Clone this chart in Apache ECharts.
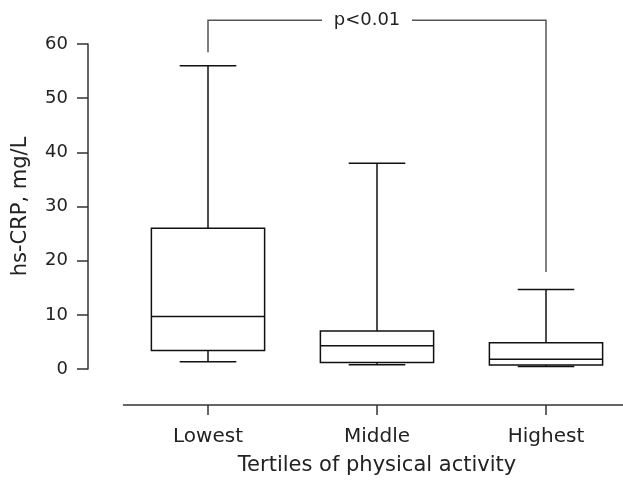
<!DOCTYPE html>
<html>
<head>
<meta charset="utf-8">
<script src="https://cdn.jsdelivr.net/npm/echarts@6/dist/echarts.min.js"></script>
<style>html,body{margin:0;padding:0;background:#fff}#c{width:623px;height:486px}</style>
</head>
<body>
<div id="c"></div>
<script>
var categories = ['Lowest', 'Middle', 'Highest'];
var whiskerLow = [1.35, 0.8, 0.45];
var q1 = [3.4, 1.2, 0.75];
var median = [9.7, 4.3, 1.8];
var q3 = [26.0, 7.0, 4.85];
var whiskerHigh = [56, 38, 14.7];
var yTicks = [0, 10, 20, 30, 40, 50, 60];
var bracketFrom = 0, bracketTo = 2;
var bracketTop = 64.4, bracketLeftEnd = 58.5, bracketRightEnd = 17.9;
var pLabel = 'p<0.01';

var boxData = categories.map(function (c, i) {
  return [i, whiskerLow[i], q1[i], median[i], q3[i], whiskerHigh[i]];
});

var FONT = 'DejaVu Sans';
var LINE = '#111';

var chart = echarts.init(document.getElementById('c'));
chart.setOption({
  animation: false,
  grid: { left: 123.5, width: 507, top: 44, bottom: 117, containLabel: false, outerBoundsMode: 'none' },
  xAxis: {
    type: 'category',
    data: categories,
    offset: 36,
    name: 'Tertiles of physical activity',
    nameLocation: 'middle',
    nameGap: 50,
    nameTextStyle: { fontFamily: FONT, fontSize: 21, color: '#222' },
    axisLine: { show: true, onZero: false, lineStyle: { color: '#333', width: 1.5 } },
    axisTick: { show: true, alignWithLabel: true, interval: 0, length: 10, lineStyle: { color: '#333', width: 1.5 } },
    axisLabel: { margin: 22, fontFamily: FONT, fontSize: 20, color: '#222' },
    splitLine: { show: false }
  },
  yAxis: {
    type: 'value',
    min: 0, max: 60, interval: 10,
    offset: 35.5,
    name: 'hs-CRP, mg/L',
    nameLocation: 'middle',
    nameGap: 57,
    nameTextStyle: { fontFamily: FONT, fontSize: 21, color: '#222' },
    axisLine: { show: true, onZero: false, lineStyle: { color: '#333', width: 1.5 } },
    axisTick: { show: true, length: 11, lineStyle: { color: '#333', width: 1.5 } },
    axisLabel: { margin: 20, fontFamily: FONT, fontSize: 18, color: '#222',
      formatter: function (v) { return yTicks.indexOf(v) >= 0 ? String(v) : ''; } },
    splitLine: { show: false }
  },
  series: [{
    type: 'custom',
    clip: false,
    data: boxData,
    encode: { x: 0, y: [1, 2, 3, 4, 5] },
    renderItem: function (params, api) {
      var i = api.value(0);
      var band = api.size([1, 0])[0];
      var bw = band * 0.67, cw = bw / 2;
      var pLo = api.coord([i, api.value(1)]);
      var pQ1 = api.coord([i, api.value(2)]);
      var pMd = api.coord([i, api.value(3)]);
      var pQ3 = api.coord([i, api.value(4)]);
      var pHi = api.coord([i, api.value(5)]);
      var cx = pMd[0];
      var st = { stroke: LINE, lineWidth: 1.5, fill: null };
      return {
        type: 'group',
        children: [
          { type: 'line', shape: { x1: cx, y1: pHi[1], x2: cx, y2: pQ3[1] }, style: st },
          { type: 'line', shape: { x1: cx - cw / 2, y1: pHi[1], x2: cx + cw / 2, y2: pHi[1] }, style: st },
          { type: 'line', shape: { x1: cx, y1: pLo[1], x2: cx, y2: pQ1[1] }, style: st },
          { type: 'line', shape: { x1: cx - cw / 2, y1: pLo[1], x2: cx + cw / 2, y2: pLo[1] }, style: st },
          { type: 'rect', shape: { x: cx - bw / 2, y: pQ3[1], width: bw, height: pQ1[1] - pQ3[1] }, style: { stroke: LINE, lineWidth: 1.5, fill: '#fff' } },
          { type: 'line', shape: { x1: cx - bw / 2, y1: pMd[1], x2: cx + bw / 2, y2: pMd[1] }, style: st }
        ]
      };
    }
  }, {
    type: 'custom',
    clip: false,
    data: [[bracketFrom, bracketTo, bracketTop, bracketLeftEnd, bracketRightEnd]],
    encode: { x: [0, 1], y: [2, 3, 4] },
    renderItem: function (params, api) {
      var a = api.coord([api.value(0), api.value(2)]);
      var b = api.coord([api.value(1), api.value(2)]);
      var aEnd = api.coord([api.value(0), api.value(3)]);
      var bEnd = api.coord([api.value(1), api.value(4)]);
      var mid = (a[0] + b[0]) / 2 - 10;
      var half = 45;
      var st = { stroke: '#555', lineWidth: 1.5, fill: null };
      return {
        type: 'group',
        children: [
          { type: 'polyline', shape: { points: [[aEnd[0], aEnd[1]], [a[0], a[1]], [mid - half, a[1]]] }, style: st },
          { type: 'polyline', shape: { points: [[mid + half, b[1]], [b[0], b[1]], [bEnd[0], bEnd[1]]] }, style: st },
          { type: 'text', x: mid, y: a[1], style: { text: pLabel, fontFamily: FONT, fontSize: 18, fill: '#222', align: 'center', verticalAlign: 'middle' } }
        ]
      };
    }
  }]
});
</script>
</body>
</html>
